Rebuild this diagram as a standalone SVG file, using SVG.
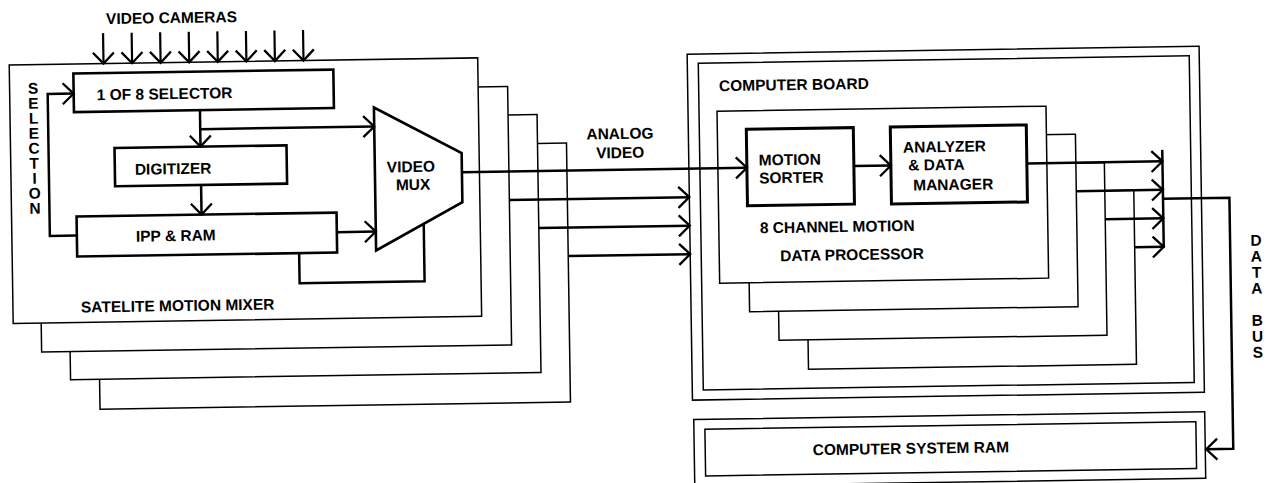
<svg xmlns="http://www.w3.org/2000/svg" width="1269" height="483" viewBox="0 0 1269 483">
<style>
.t{font-family:"Liberation Sans",Arial,sans-serif;font-weight:bold;font-size:15.5px;fill:#000}
.m{text-anchor:middle}
.thin{fill:#fff;stroke:#000;stroke-width:1.5}
.thick{fill:#fff;stroke:#000;stroke-width:2.6}
.c{fill:none;stroke:#000;stroke-width:2.5}
.a{marker-end:url(#ah)}
</style>
<defs>
<marker id="ah" viewBox="-14 -13 16 26" refX="0" refY="0" markerWidth="16" markerHeight="26" markerUnits="userSpaceOnUse" orient="auto">
<path d="M-11,-10.5 L0,0 L-11,10.5" fill="none" stroke="#000" stroke-width="2.3"/>
</marker>
</defs>
<rect x="0" y="0" width="1269" height="483" fill="#fff"/>
<g transform="rotate(-0.88 634 241)">
<g id="camera-label"><text class="t" x="109.5" y="16">VIDEO CAMERAS</text></g>
<g id="mixer-stack">
<rect class="thin" x="97.5" y="142" width="470.5" height="259"/>
<rect class="thin" x="68.5" y="113" width="470.5" height="258"/>
<rect class="thin" x="40" y="84.5" width="470" height="258.5"/>
</g>
<g id="satelite-motion-mixer">
<rect class="thin" x="12" y="55.5" width="468.5" height="258.5"/>
<text class="t" x="80" y="304">SATELITE MOTION MIXER</text>
</g>
<g id="selection-label">
<text class="t m" x="35.5" y="84.5">S</text>
<text class="t m" x="35.5" y="99.5">E</text>
<text class="t m" x="35.5" y="114.5">L</text>
<text class="t m" x="35.5" y="129.5">E</text>
<text class="t m" x="35.5" y="144.5">C</text>
<text class="t m" x="35.5" y="159.5">T</text>
<text class="t m" x="35.5" y="174.5">I</text>
<text class="t m" x="35.5" y="189.5">O</text>
<text class="t m" x="35.5" y="204.5">N</text>
</g>
<g id="selector">
<rect class="thick" x="76" y="65" width="260" height="38.5"/>
<text class="t" x="99" y="92">1 OF 8 SELECTOR</text>
</g>
<g id="digitizer">
<rect class="thick" x="116" y="140" width="172" height="38.3"/>
<text class="t" x="136" y="167">DIGITIZER</text>
</g>
<g id="ipp-ram">
<rect class="thick" x="77" y="208" width="260" height="40"/>
<text class="t" x="136" y="234">IPP &amp; RAM</text>
</g>
<g id="video-mux">
<polygon class="thick" points="376,103.5 463,150.5 463,199.5 376,246.5"/>
<text class="t m" x="412" y="168.6">VIDEO</text>
<text class="t m" x="414" y="186.6">MUX</text>
</g>
<g id="analog-video-label">
<text class="t m" x="621.6" y="138.8">ANALOG</text>
<text class="t m" x="621.6" y="157.8">VIDEO</text>
</g>
<g id="computer-board">
<rect class="thin" x="690" y="55" width="512" height="346"/>
<rect class="thin" x="701" y="64.3" width="491" height="326.7"/>
<text class="t" x="721.4" y="92.5">COMPUTER BOARD</text>
</g>
<g id="processor-stack">
<rect class="thin" x="806.5" y="198" width="328" height="174"/>
<rect class="thin" x="777.5" y="170" width="328" height="172.5"/>
<rect class="thin" x="748.5" y="141" width="328.5" height="172.5"/>
</g>
<g id="motion-data-processor">
<rect class="thin" x="719" y="112.5" width="329" height="172"/>
<text class="t" x="760" y="235.2">8 CHANNEL MOTION</text>
<text class="t" x="780" y="263.4">DATA PROCESSOR</text>
</g>
<g id="motion-sorter">
<rect class="thick" x="748" y="131" width="107" height="76.5" style="stroke-width:3"/>
<text class="t" x="760" y="167.4">MOTION</text>
<text class="t" x="760" y="185.4">SORTER</text>
</g>
<g id="analyzer">
<rect class="thick" x="892" y="131" width="136" height="77" style="stroke-width:3"/>
<text class="t" x="904.4" y="156.8">ANALYZER</text>
<text class="t" x="909.4" y="174.8">&amp; DATA</text>
<text class="t" x="914" y="194.8">MANAGER</text>
</g>
<g id="computer-system-ram">
<rect class="thin" x="691" y="420.5" width="511" height="66.5"/>
<rect class="thin" x="702" y="430.3" width="491" height="46.7"/>
<text class="t" x="809.5" y="458">COMPUTER SYSTEM RAM</text>
</g>
<g id="data-bus-label">
<text class="t m" x="1256" y="255.2">D</text>
<text class="t m" x="1256" y="271.2">A</text>
<text class="t m" x="1256" y="287.2">T</text>
<text class="t m" x="1256" y="303.2">A</text>
<text class="t m" x="1256" y="335.2">B</text>
<text class="t m" x="1256" y="351.2">U</text>
<text class="t m" x="1256" y="367.2">S</text>
</g>
<g id="connectors">
<path class="c a" style="stroke-width:2.2" d="M106.3,25V55.5"/>
<path class="c a" style="stroke-width:2.2" d="M134.9,25V55.5"/>
<path class="c a" style="stroke-width:2.2" d="M163.4,25V55.5"/>
<path class="c a" style="stroke-width:2.2" d="M192,25V55.5"/>
<path class="c a" style="stroke-width:2.2" d="M220.6,25V55.5"/>
<path class="c a" style="stroke-width:2.2" d="M249.2,25V55.5"/>
<path class="c a" style="stroke-width:2.2" d="M277.7,25V55.5"/>
<path class="c a" style="stroke-width:2.2" d="M306.3,25V55.5"/>
<path class="c a" d="M77,227H50V85H76"/>
<path class="c a" d="M202,103.5V140"/>
<path class="c a" d="M202,122.5H376"/>
<path class="c a" d="M202,178.3V208"/>
<path class="c a" d="M337,227.6H376"/>
<path class="c" d="M299,248V278H424V220.6"/>
<path class="c a" d="M463,169.5H748"/>
<path class="c a" d="M510,198H690"/>
<path class="c a" d="M539,226.5H690"/>
<path class="c a" d="M568,255H690"/>
<path class="c a" d="M855,169.5H892"/>
<path class="c a" d="M1028,169.5H1163.6"/>
<path class="c a" d="M1077,198H1163.6"/>
<path class="c a" d="M1105.5,226.5H1163.6"/>
<path class="c a" d="M1134.5,255H1163.6"/>
<path class="c" d="M1163.6,158V256"/>
<path class="c a" d="M1163.6,207H1230V458H1203"/>
</g>
</g>
</svg>
